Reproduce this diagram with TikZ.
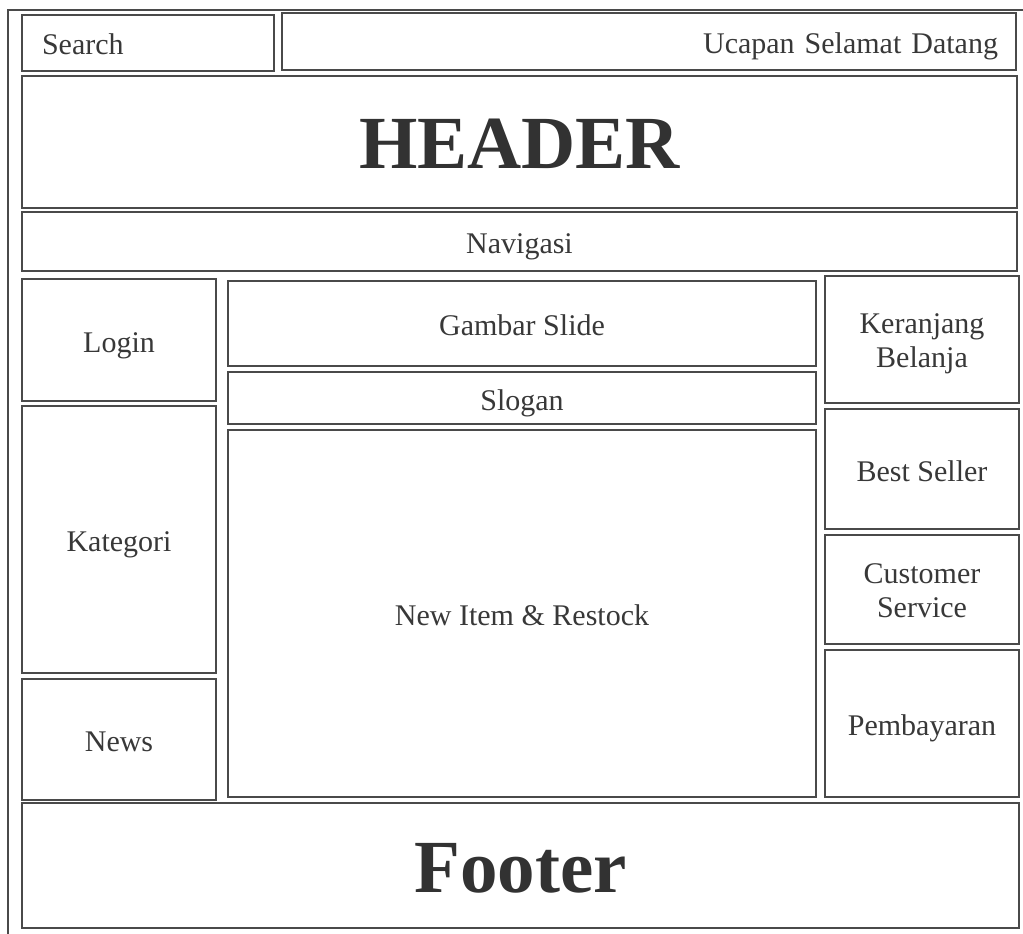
\documentclass[tikz,border=0pt]{standalone}
\usepackage{fontspec}
\setmainfont{Liberation Serif}
\definecolor{inkline}{HTML}{4A4A4A}
\definecolor{inktext}{HTML}{383838}
% two stacked lines, baseline on the bottom line
\newcommand{\twolines}[2]{\begin{tabular}[b]{@{}c@{}}#1\\#2\end{tabular}}
\begin{document}
\begin{tikzpicture}[x=1pt,y=-1pt,
  panel/.style={draw=inkline, line width=1.8pt, anchor=north west, inner sep=0pt, outer sep=0pt,
    text=inktext, font=\fontsize{30}{34}\selectfont, align=center,
    text height=24pt, text depth=0pt},
  stacked/.style={text height=56pt, text depth=0pt},
  bigtitle/.style={font=\fontsize{75}{80}\selectfont\bfseries, text=inktext!90!black,
    text height=53pt, text depth=0pt}]
\useasboundingbox (0,0) rectangle (1023,934);
% outer page frame
\draw[inkline, line width=1.6pt] (8,934) -- (8,10) -- (1023,10);

% top bar
\node[panel, minimum width=252pt, minimum height=56pt, text width=212pt, inner xsep=20pt, align=left] (search) at (22,15) {Search};
\node[panel, minimum width=734pt, minimum height=57pt, text width=698pt, inner xsep=18pt, align=right] (greet) at (282,13) {Ucapan Selamat Datang};

% header and navigation
\node[panel, minimum width=995pt, minimum height=132pt, bigtitle] (header) at (22,76) {HEADER};
\node[panel, minimum width=995pt, minimum height=59pt] (nav) at (22,212) {Navigasi};

% left column
\node[panel, minimum width=194pt, minimum height=122pt] (login) at (22,279) {Login};
\node[panel, minimum width=194pt, minimum height=267pt] (kategori) at (22,406) {Kategori};
\node[panel, minimum width=194pt, minimum height=121pt] (news) at (22,679) {News};

% centre column
\node[panel, minimum width=588pt, minimum height=85pt] (slide) at (228,281) {Gambar Slide};
\node[panel, minimum width=588pt, minimum height=52pt] (slogan) at (228,372) {Slogan};
\node[panel, minimum width=588pt, minimum height=367pt] (items) at (228,430) {New Item \& Restock};

% right column
\node[panel, stacked, minimum width=194pt, minimum height=127pt] (cart) at (825,276) {\twolines{Keranjang}{Belanja}};
\node[panel, minimum width=194pt, minimum height=120pt] (best) at (825,409) {Best Seller};
\node[panel, stacked, minimum width=194pt, minimum height=109pt] (service) at (825,535) {\twolines{Customer}{Service}};
\node[panel, minimum width=194pt, minimum height=147pt] (pay) at (825,650) {Pembayaran};

% footer
\node[panel, minimum width=997pt, minimum height=125pt, bigtitle] (footer) at (22,803) {Footer};
\end{tikzpicture}
\end{document}
